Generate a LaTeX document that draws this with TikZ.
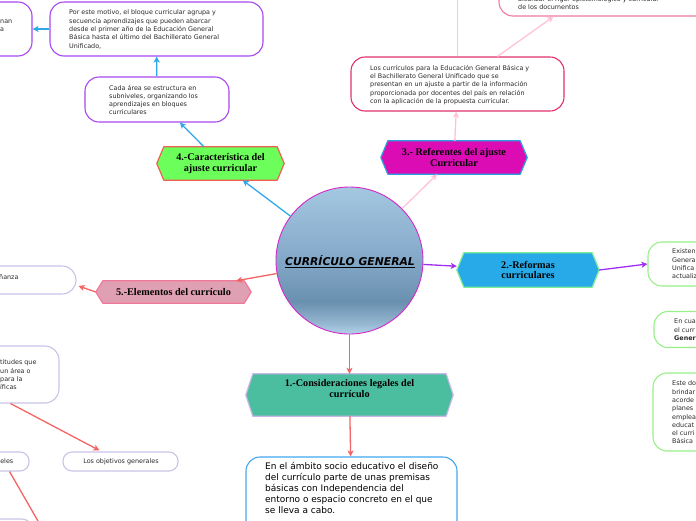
\documentclass[tikz,border=0pt]{standalone}
\usepackage{fontspec}
\setmainfont{DejaVu Sans}
\newfontfamily\headfont{Liberation Serif}
\usetikzlibrary{arrows.meta,backgrounds,calc}
\definecolor{cblue}{HTML}{2EA8E8}
\definecolor{cpinkl}{HTML}{FFC2DA}
\definecolor{cpurple}{HTML}{A030F0}
\definecolor{cred}{HTML}{F46464}
\definecolor{bpurple}{HTML}{A848F0}
\definecolor{bcrimson}{HTML}{E0306E}
\definecolor{bpinktr}{HTML}{F07AA2}
\definecolor{bgreen}{HTML}{98F088}
\definecolor{blav}{HTML}{C8C4E8}
\definecolor{bblue}{HTML}{40A8F0}
\definecolor{txt}{HTML}{2A2A2A}
\definecolor{ballb}{HTML}{B2D2EA}
\definecolor{ballband}{HTML}{92B4CE}
\definecolor{balldark}{HTML}{6A90B0}
\definecolor{ballmid}{HTML}{86AACA}
\definecolor{balltop}{HTML}{A4C8E0}
\definecolor{ballrim}{HTML}{D428C8}
\definecolor{hfour}{HTML}{6CFF5C}
\definecolor{hfourd}{HTML}{F06050}
\definecolor{hthree}{HTML}{DC0CB4}
\definecolor{hthreed}{HTML}{2AA0E0}
\definecolor{htwo}{HTML}{28AAE8}
\definecolor{htwod}{HTML}{80EC98}
\definecolor{hfive}{HTML}{E0A0B4}
\definecolor{hfived}{HTML}{F07898}
\definecolor{hone}{HTML}{4CBEA0}
\definecolor{honed}{HTML}{C8B8E8}
\pgfdeclareverticalshading{ballshade}{100bp}{color(0bp)=(ballb); color(25bp)=(ballb); color(29bp)=(ballband); color(36bp)=(balldark); color(52bp)=(ballmid); color(75bp)=(balltop); color(100bp)=(balltop)}
\tikzset{
  conn/.style={line width=1.3pt, -{Stealth[length=6pt,width=6pt,inset=1.5pt]}},
  rbox/.style={draw, line width=1.1pt, rounded corners=14pt, inner sep=0pt, fill=white},
  smalltxt/.style={font=\fontsize{6.4}{8.3}\selectfont, text=txt, align=left, inner sep=0pt, anchor=west},
  hexlabel/.style={inner sep=0pt, align=center, font=\headfont\bfseries\fontsize{10.2}{10.4}\selectfont, text=black},
}
\newcommand\hexbox[8]{%
  \node[hexlabel, minimum width=#4, minimum height=#5] (#1) at (#2,#3) {#8};
  \begin{scope}[on background layer]
  \path[fill=#6, draw=#7, line width=1.2pt, line join=round]
    (#1.west) -- ([xshift=7pt]#1.north west) -- ([xshift=-7pt]#1.north east)
    -- (#1.east) -- ([xshift=-7pt]#1.south east) -- ([xshift=7pt]#1.south west) -- cycle;
  \end{scope}}
\begin{document}
\begin{tikzpicture}[x=1pt,y=-1pt]
\useasboundingbox (0,0) rectangle (696,520);
\clip (0,0) rectangle (696,520);

% central circle
\node[circle, draw=ballrim, line width=0.9pt, minimum size=147pt, inner sep=0pt,
      shade, shading=ballshade] (ball) at (349.5,260.5) {};
\node[inner sep=0pt, font=\fontsize{10.8}{12}\selectfont\bfseries\itshape] (balltxt) at (350,262) {\underline{CURRÍCULO GENERAL}};

% hexagon nodes
\hexbox{n4}{220.5}{163.5}{127pt}{33pt}{hfour}{hfourd}{4.-Característica del\\ajuste curricular}
\hexbox{n3}{454}{157.5}{146pt}{33pt}{hthree}{hthreed}{3.- Referentes del ajuste\\Curricular}
\hexbox{n2}{528}{270}{142pt}{34pt}{htwo}{htwod}{2.-Reformas\\curriculares}
\hexbox{n5}{173.5}{292}{155pt}{22pt}{hfive}{hfived}{5.-Elementos del currículo}
\hexbox{n1}{349.5}{395}{207pt}{42pt}{hone}{honed}{1.-Consideraciones legales del\\currículo\\[3pt]}

% branch 4 boxes
\node[rbox, draw=bpurple, minimum width=182pt, minimum height=54pt] (tlbox) at (-59,29) {};
\node[smalltxt] (tlbox-t) at (0,25.5) {nan\\a};
\node[rbox, draw=bpurple, minimum width=213pt, minimum height=54pt] (topbox) at (156.5,29) {};
\node[smalltxt] (topbox-t) at (69,29.5) {Por este motivo, el bloque curricular agrupa y\\secuencia aprendizajes que pueden abarcar\\desde el primer año de la Educación General\\Básica hasta el último del Bachillerato General\\Unificado,};
\node[rbox, draw=bpurple, minimum width=144pt, minimum height=45pt] (cada) at (157,99.5) {};
\node[smalltxt] (cada-t) at (109,100) {Cada área se estructura en\\subniveles, organizando los\\aprendizajes en bloques\\curriculares};

% branch 3 boxes
\node[rbox, draw=bcrimson, minimum width=213pt, minimum height=54pt] (pinkbox) at (457.5,84) {};
\node[smalltxt] (pinkbox-t) at (370,85) {Los currículos para la Educación General Básica y\\el Bachillerato General Unificado que se\\presentan en un ajuste a partir de la información\\proporcionada por docentes del país en relación\\con la aplicación de la propuesta curricular.};
\node[rbox, draw=bpinktr, minimum width=301pt, minimum height=56pt] (trbox) at (649.5,-12) {};
\node[smalltxt] (trbox-t) at (518,3) {alcanzar el rigor epistemológico y curricular\\de los documentos};
\coordinate (up3) at (457.5,-6);

% branch 2 boxes
\node[rbox, draw=bgreen, minimum width=152pt, minimum height=44pt] (boxA) at (724,264) {};
\node[smalltxt] (boxA-t) at (672,264) {Existen\\Genera\\Unifica\\actualiz};
\node[rbox, draw=bgreen, minimum width=146pt, minimum height=36pt] (boxB) at (727,329.5) {};
\node[smalltxt] (boxB-t) at (674,330) {En cua\\el curr\\\textbf{Gener}};
\node[rbox, draw=bgreen, minimum width=148pt, minimum height=78pt] (boxC) at (727,412) {};
\node[smalltxt] (boxC-t) at (672,412.5) {Este do\\brindar\\acorde\\planes\\emplea\\educat\\el curri\\Básica};

% branch 5 boxes
\node[rbox, draw=blav, minimum width=176pt, minimum height=28pt] (nbox) at (-12,280) {};
\node[smalltxt] (nbox-t) at (-1,277) {ñanza};
\node[rbox, draw=blav, minimum width=159pt, minimum height=57pt] (tbox) at (-20.5,374.5) {};
\node[smalltxt] (tbox-t) at (0,375) {titudes que\\un área o\\para la\\íficas};
\node[rbox, draw=blav, rounded corners=9pt, minimum width=115pt, minimum height=19pt] (obj) at (120.5,461.5) {};
\node[smalltxt, anchor=center] (obj-t) at (121,461.5) {Los objetivos generales};
\node[rbox, draw=blav, rounded corners=9pt, minimum width=129pt, minimum height=19pt] (eles) at (-35.5,461.5) {};
\node[smalltxt, anchor=east] (eles-t) at (13.5,461.5) {eles};
\node[rbox, draw=blav, minimum width=135pt, minimum height=40pt] (blbox) at (-32.5,539) {};
\coordinate (offbl) at (42,528);

% branch 1 box
\node[rbox, draw=bblue, minimum width=211pt, minimum height=90pt] (botbox) at (351.5,502) {};
\node[inner sep=0pt, anchor=north west, align=left, text=black, font=\fontsize{9}{11}\selectfont] (botbox-t) at (265,462) {En el ámbito socio educativo el diseño\\del currículo parte de unas premisas\\básicas con Independencia del\\entorno o espacio concreto en el que\\se lleva a cabo.};

% connectors
\draw[conn, cblue] (ball) -- (n4);
\draw[conn, cblue] (n4) -- (cada);
\draw[conn, cblue] (cada) -- (topbox);
\draw[conn, cblue] (topbox) -- (tlbox);
\draw[conn, cpinkl] (ball) -- (n3);
\draw[conn, cpinkl] (n3) -- (pinkbox);
\draw[conn, cpinkl] (pinkbox.north) -- (up3);
\draw[conn, cpinkl] ($(pinkbox.north)+(40,0)$) -- ($(trbox.south west)+(55,0)$);
\draw[conn, cpurple] (ball) -- (n2);
\draw[conn, cpurple] (n2.east) -- (boxA.west);
\draw[conn, cred] (ball) -- (n5);
\draw[conn, cred] (n5.west) -- ($(nbox.east)+(2,6)$);
\draw[conn, cred] ($(tbox.south east)+(-49,0)$) -- ($(obj.north west)+(37,-1)$);
\draw[conn, cred] ($(eles.south east)+(-20,0)$) -- (offbl);
\draw[conn, cred] (ball) -- (n1);
\draw[conn, cred] (n1) -- (botbox);
\end{tikzpicture}
\end{document}
